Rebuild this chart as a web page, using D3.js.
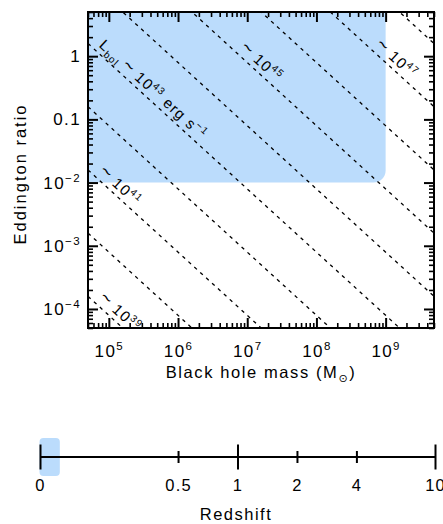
<!DOCTYPE html>
<html><head><meta charset="utf-8">
<script src="https://cdn.jsdelivr.net/npm/d3@7"></script>
<style>
body{margin:0;background:#fff}
svg{display:block}
text{font-family:"Liberation Sans",Arial,sans-serif;fill:#000}
</style>
</head><body>
<svg id="c" width="443" height="524"></svg>
<script>
// ---- data ----
const massDomain = [5e4, 5e9];
const ratioDomain = [5e-5, 5];
const massTicks = [1e5, 1e6, 1e7, 1e8, 1e9];
const massTickBase = ["10", "10", "10", "10", "10"];
const massTickExp = ["5", "6", "7", "8", "9"];
const ratioTicks = [1e-4, 1e-3, 1e-2, 0.1, 1];
const ratioTickBase = ["10", "10", "10", "0.1", "1"];
const ratioTickExp = ["−4", "−3", "−2", "", ""];
const lumExponents = [39, 40, 41, 42, 43, 44, 45, 46, 47, 48];
const eddConst = 1.26e38;
const labelledLum = [39, 41, 43, 45, 47];
const labelStartMass = [6.3e4, 6.3e4, 6.3e4, 6.9e6, 6.2e8];
const blueMass = [1e4, 1e9];
const blueRatio = [0.01, 50];
const zDomain = [0.1, 10];
const zTicks = [0.1, 0.5, 1, 2, 4, 10];
const zTickLabels = ["0", "0.5", "1", "2", "4", "10"];
const zMajor = [0.1, 1, 10];
const zBand = [0.1, 0.126];

// ---- layout ----
const L = 88, R = 434, T = 12, B = 328;
const svg = d3.select("#c");
const x = d3.scaleLog().domain(massDomain).range([L, R]);
const y = d3.scaleLog().domain(ratioDomain).range([B, T]);

svg.append("defs").append("clipPath").attr("id", "plotclip")
  .append("rect").attr("x", L).attr("y", T).attr("width", R - L).attr("height", B - T);

const plot = svg.append("g").attr("clip-path", "url(#plotclip)");

// blue region
plot.append("rect")
  .attr("x", x(blueMass[0])).attr("y", y(blueRatio[1]))
  .attr("width", x(blueMass[1]) - x(blueMass[0]))
  .attr("height", y(blueRatio[0]) - y(blueRatio[1]))
  .attr("rx", 12).attr("ry", 12)
  .attr("fill", "#bbdcfc");

// dashed constant-luminosity lines
const line = d3.line().x(d => x(d[0])).y(d => y(d[1]));
lumExponents.forEach(e => {
  const Lb = Math.pow(10, e);
  const pts = massDomain.map(m => [m, Lb / (eddConst * m)]);
  plot.append("path").attr("d", line(pts))
    .attr("fill", "none").attr("stroke", "#000")
    .attr("stroke-width", 1.3).attr("stroke-dasharray", "3.5,4.5");
});

// labels along lines
labelledLum.forEach((e, i) => {
  const Lb = Math.pow(10, e);
  const m0 = labelStartMass[i];
  const p0 = [x(m0), y(Lb / (eddConst * m0))];
  const p1 = [x(m0 * 10), y(Lb / (eddConst * m0 * 10))];
  const ang = Math.atan2(p1[1] - p0[1], p1[0] - p0[0]);
  const off = 5;
  const px = p0[0] + Math.sin(ang) * off, py = p0[1] - Math.cos(ang) * off;
  const t = svg.append("text")
    .attr("transform", `translate(${px},${py}) rotate(${ang * 180 / Math.PI})`)
    .attr("font-size", 15).attr("letter-spacing", 1.2);
  if (e === 43) {
    t.append("tspan").text("L");
    t.append("tspan").attr("font-size", 10).attr("dy", 4).text("bol ");
    t.append("tspan").attr("dy", -4).attr("font-size", 19).text("~");
    t.append("tspan").text(" 10");
    t.append("tspan").attr("font-size", 10).attr("dy", -6).text(String(e));
    t.append("tspan").attr("dy", 6).text(" erg s");
    t.append("tspan").attr("font-size", 10).attr("dy", -6).text("−1");
  } else {
    t.append("tspan").attr("font-size", 19).text("~");
    t.append("tspan").text(" 10");
    t.append("tspan").attr("font-size", 10).attr("dy", -6).text(String(e));
  }
});

// ---- axes (ticks inward) ----
const xMinor = x.ticks().filter(v => !massTicks.some(m => Math.abs(m - v) / m < 1e-6));
const yMinor = y.ticks().filter(v => !ratioTicks.some(m => Math.abs(m - v) / m < 1e-6));

function styleAxis(g, w) {
  g.select(".domain").remove();
  g.selectAll(".tick line").attr("stroke", "#000").attr("stroke-width", w);
}
svg.append("g").attr("transform", `translate(0,${B})`)
  .call(d3.axisBottom(x).tickValues(xMinor).tickSize(-5).tickFormat(""))
  .call(g => styleAxis(g, 1.6)).selectAll("text").remove();
svg.append("g").attr("transform", `translate(0,${T})`)
  .call(d3.axisTop(x).tickValues(xMinor).tickSize(-5).tickFormat(""))
  .call(g => styleAxis(g, 1.6)).selectAll("text").remove();
svg.append("g").attr("transform", `translate(0,${T})`)
  .call(d3.axisTop(x).tickValues(massTicks).tickSize(-10).tickFormat(""))
  .call(g => styleAxis(g, 2)).selectAll("text").remove();
svg.append("g").attr("transform", `translate(${L},0)`)
  .call(d3.axisLeft(y).tickValues(yMinor).tickSize(-5).tickFormat(""))
  .call(g => styleAxis(g, 1.6)).selectAll("text").remove();
svg.append("g").attr("transform", `translate(${R},0)`)
  .call(d3.axisRight(y).tickValues(yMinor).tickSize(-5).tickFormat(""))
  .call(g => styleAxis(g, 1.6)).selectAll("text").remove();
svg.append("g").attr("transform", `translate(${R},0)`)
  .call(d3.axisRight(y).tickValues(ratioTicks).tickSize(-10).tickFormat(""))
  .call(g => styleAxis(g, 2)).selectAll("text").remove();

// bottom major with labels
const gxb = svg.append("g").attr("transform", `translate(0,${B})`)
  .call(d3.axisBottom(x).tickValues(massTicks).tickSizeInner(-10).tickSizeOuter(0).tickPadding(17).tickFormat(""))
  .call(g => styleAxis(g, 2));
gxb.selectAll(".tick text").each(function (d, i) {
  const t = d3.select(this).attr("font-size", 17).attr("font-family", null).attr("letter-spacing", 1.4).attr("fill", "#000");
  t.append("tspan").text(massTickBase[i]);
  t.append("tspan").attr("font-size", 11.5).attr("dy", -7).text(massTickExp[i]);
});

// left major with labels
const gyl = svg.append("g").attr("transform", `translate(${L},0)`)
  .call(d3.axisLeft(y).tickValues(ratioTicks).tickSizeInner(-10).tickSizeOuter(0).tickPadding(7).tickFormat(""))
  .call(g => styleAxis(g, 2));
gyl.selectAll(".tick text").each(function (d, i) {
  const t = d3.select(this).attr("font-size", 17).attr("font-family", null).attr("letter-spacing", 1.4).attr("fill", "#000");
  t.append("tspan").text(ratioTickBase[i]);
  if (ratioTickExp[i]) t.append("tspan").attr("font-size", 11.5).attr("dy", -7).text(ratioTickExp[i]);
});

// frame
svg.append("rect").attr("x", L).attr("y", T).attr("width", R - L).attr("height", B - T)
  .attr("fill", "none").attr("stroke", "#000").attr("stroke-width", 2);

// axis titles
const xt = svg.append("text").attr("x", (L + R) / 2).attr("y", 378).attr("text-anchor", "middle")
  .attr("font-size", 16.5).attr("letter-spacing", 1.6);
xt.append("tspan").text("Black hole mass (M");
xt.append("tspan").attr("font-size", 11).attr("dy", 4).attr("font-family", "DejaVu Sans").text("⊙");
xt.append("tspan").attr("dy", -4).text(")");

svg.append("text").attr("transform", `translate(26,${(T + B) / 2 + 4}) rotate(-90)`)
  .attr("text-anchor", "middle").attr("font-size", 16.5).attr("letter-spacing", 2)
  .text("Eddington ratio");

// ---- redshift axis ----
const zx = d3.scaleLog().domain(zDomain).range([40, 435]);
const zy = 457;
svg.append("rect").attr("x", zx(zBand[0]) - 0.5).attr("y", zy - 19)
  .attr("width", zx(zBand[1]) - zx(zBand[0]) + 0.5).attr("height", 38)
  .attr("rx", 4).attr("ry", 4).attr("fill", "#bbdcfc");
svg.append("line").attr("x1", zx(zDomain[0])).attr("x2", zx(zDomain[1]))
  .attr("y1", zy).attr("y2", zy).attr("stroke", "#000").attr("stroke-width", 2);

const zMinor = zTicks.filter(v => !zMajor.includes(v));
function zLabel(g) {
  g.selectAll(".tick text").attr("font-size", 16.5).attr("font-family", null)
    .attr("letter-spacing", 1.2).attr("fill", "#000");
}
svg.append("g").attr("transform", `translate(0,${zy - 12.5})`)
  .call(d3.axisBottom(zx).tickValues(zMajor).tickSizeInner(25).tickSizeOuter(0).tickPadding(10)
    .tickFormat(d => zTickLabels[zTicks.indexOf(d)]))
  .call(g => styleAxis(g, 2)).call(zLabel);
svg.append("g").attr("transform", `translate(0,${zy - 6})`)
  .call(d3.axisBottom(zx).tickValues(zMinor).tickSizeInner(12).tickSizeOuter(0).tickPadding(16.6)
    .tickFormat(d => zTickLabels[zTicks.indexOf(d)]))
  .call(g => styleAxis(g, 2)).call(zLabel);

svg.append("text").attr("x", 236).attr("y", 520).attr("text-anchor", "middle")
  .attr("font-size", 16.5).attr("letter-spacing", 1.5).text("Redshift");
</script>
</body></html>
